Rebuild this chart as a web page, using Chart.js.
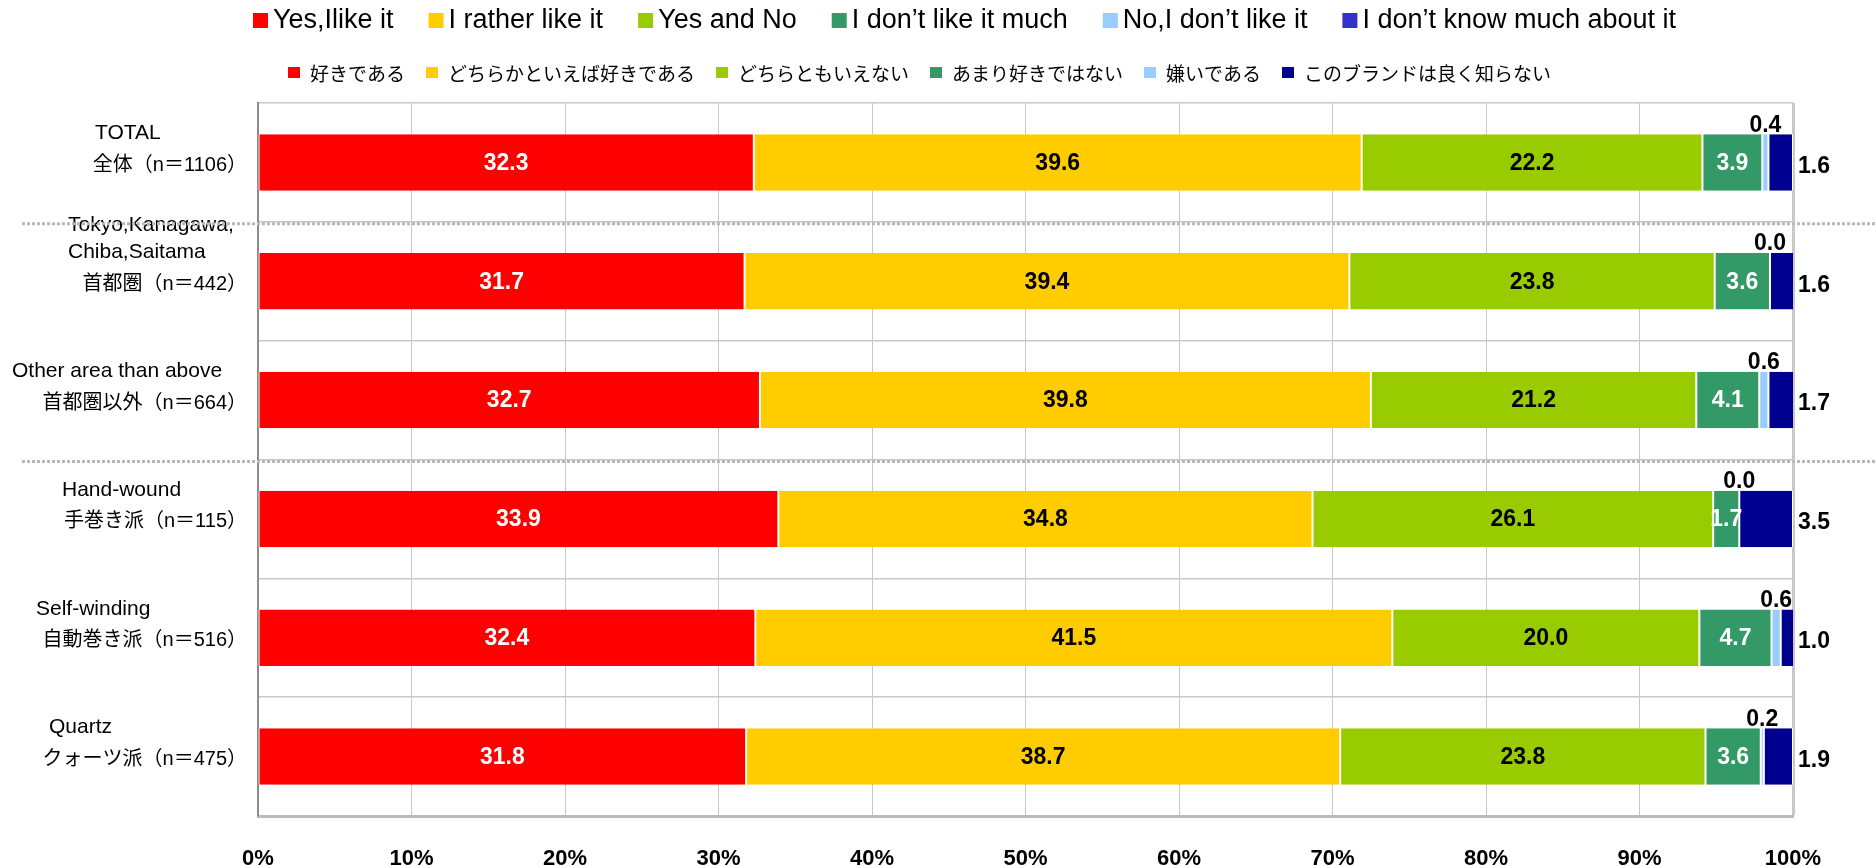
<!DOCTYPE html>
<html>
<head>
<meta charset="utf-8">
<script src="https://cdn.jsdelivr.net/npm/chart.js@4.4.1/dist/chart.umd.min.js"></script>
<style>
html,body{margin:0;padding:0;background:#fff;}
#wrap{width:1876px;height:866px;position:relative;}
</style>
</head>
<body>
<div id="wrap"><canvas id="c"></canvas></div>
<script>
// ---- data ----
const categoriesEn = [['TOTAL'], ['Tokyo,Kanagawa,', 'Chiba,Saitama'], ['Other area than above'], ['Hand-wound'], ['Self-winding'], ['Quartz']];
const categoriesJa = ['全体（n＝1106）', '首都圏（n＝442）', '首都圏以外（n＝664）', '手巻き派（n＝115）', '自動巻き派（n＝516）', 'クォーツ派（n＝475）'];
const seriesEn = ['Yes,Ilike it', 'I rather like it', 'Yes and No', 'I don\u2019t like it much', 'No,I don\u2019t like it', 'I don\u2019t know much about it'];
const seriesJa = ['好きである', 'どちらかといえば好きである', 'どちらともいえない', 'あまり好きではない', '嫌いである', 'このブランドは良く知らない'];
const yesLike      = [32.3, 31.7, 32.7, 33.9, 32.4, 31.8];
const ratherLike   = [39.6, 39.4, 39.8, 34.8, 41.5, 38.7];
const yesAndNo     = [22.2, 23.8, 21.2, 26.1, 20.0, 23.8];
const dontLikeMuch = [3.9, 3.6, 4.1, 1.7, 4.7, 3.6];
const dontLike     = [0.4, 0.0, 0.6, 0.0, 0.6, 0.2];
const dontKnow     = [1.6, 1.6, 1.7, 3.5, 1.0, 1.9];
const xTickLabels  = ['0%', '10%', '20%', '30%', '40%', '50%', '60%', '70%', '80%', '90%', '100%'];

// ---- styles / layout ----
const barColors = ['#FF0000', '#FFCC00', '#99CC00', '#339966', '#99CCFF', '#000090'];
const legendEnColors = ['#FF0000', '#FFCC00', '#99CC00', '#339966', '#99CCFF', '#3333CC'];
const labelColors = ['#FFFFFF', '#000000', '#000000', '#FFFFFF'];
const engLeft = [95, 68, 12, 62, 36, 49];
const separatorsAfter = [0, 2];
const LATIN = '"Liberation Sans", Arial, sans-serif';
const CJK = '"Noto Sans CJK JP", sans-serif';
const MIXED = '"Liberation Sans", "Noto Sans CJK JP", sans-serif';

const seriesValues = [yesLike, ratherLike, yesAndNo, dontLikeMuch, dontLike, dontKnow];

const datasets = seriesValues.map((vals, k) => ({
  label: seriesEn[k],
  data: vals,
  backgroundColor: barColors[k],
  borderColor: '#FFFFFF',
  borderWidth: {left: 1, right: 1, top: 0, bottom: 0},
  borderSkipped: false,
  barPercentage: 0.475,
  categoryPercentage: 1.0
}));

const customDraw = {
  id: 'customDraw',
  afterDatasetsDraw(chart) {
    const ctx = chart.ctx;
    const area = chart.chartArea;
    ctx.save();
    ctx.font = 'bold 23px ' + LATIN;
    ctx.textBaseline = 'middle';
    ctx.textAlign = 'center';
    chart.data.datasets.forEach((ds, d) => {
      const meta = chart.getDatasetMeta(d);
      meta.data.forEach((el, i) => {
        const v = ds.data[i];
        const txt = v.toFixed(1);
        const left = Math.min(el.base, el.x), right = Math.max(el.base, el.x);
        const cx = (left + right) / 2;
        if (d <= 3) {
          ctx.fillStyle = labelColors[d];
          ctx.fillText(txt, cx, el.y + 1);
        } else if (d === 4) {
          ctx.fillStyle = '#000';
          ctx.fillText(txt, cx, el.y - el.height / 2 - 9);
        } else {
          ctx.fillStyle = '#000';
          ctx.fillText(txt, area.right + 21, el.y + 4);
        }
      });
    });
    ctx.restore();
  },
  afterDraw(chart) {
    const ctx = chart.ctx;
    const yScale = chart.scales.y;
    ctx.save();
    // y-axis category labels
    categoriesJa.forEach((ja, i) => {
      const y = yScale.getPixelForValue(i);
      ctx.fillStyle = '#000';
      ctx.textBaseline = 'middle';
      ctx.font = '20px ' + MIXED;
      ctx.textAlign = 'right';
      ctx.fillText(ja, 247, y + 3);
      ctx.font = '21px ' + LATIN;
      ctx.textAlign = 'left';
      const lines = categoriesEn[i];
      for (let j = lines.length - 1, k = 0; j >= 0; j--, k++) {
        ctx.fillText(lines[j], engLeft[i], y + 3 - 32 - 27 * k);
      }
    });
    // dotted separators
    ctx.strokeStyle = '#B8B8B8';
    ctx.lineWidth = 3;
    ctx.setLineDash([3, 2]);
    separatorsAfter.forEach(i => {
      const yb = (yScale.getPixelForValue(i) + yScale.getPixelForValue(i + 1)) / 2 + 2;
      ctx.beginPath();
      ctx.moveTo(22, yb);
      ctx.lineTo(1876, yb);
      ctx.stroke();
    });
    ctx.setLineDash([]);
    // legend row 1 (English)
    ctx.font = '27px ' + LATIN;
    ctx.textAlign = 'left';
    ctx.textBaseline = 'alphabetic';
    let x = 253;
    seriesEn.forEach((t, k) => {
      ctx.fillStyle = legendEnColors[k];
      ctx.fillRect(x, 13, 15, 15);
      ctx.fillStyle = '#000';
      ctx.fillText(t, x + 20, 28);
      x += 20 + ctx.measureText(t).width + 35;
    });
    // legend row 2 (Japanese)
    ctx.font = '19px ' + CJK;
    ctx.textBaseline = 'middle';
    x = 288;
    seriesJa.forEach((t, k) => {
      ctx.fillStyle = barColors[k];
      ctx.fillRect(x, 67, 12, 11);
      ctx.fillStyle = '#000';
      ctx.fillText(t, x + 22, 74);
      x += 22 + ctx.measureText(t).width + 21;
    });
    ctx.restore();
  }
};

new Chart(document.getElementById('c'), {
  type: 'bar',
  data: {labels: categoriesJa, datasets: datasets},
  options: {
    indexAxis: 'y',
    responsive: true,
    maintainAspectRatio: false,
    animation: false,
    layout: {padding: {top: 103, right: 83, bottom: 1, left: 0}},
    plugins: {legend: {display: false}, tooltip: {enabled: false}},
    scales: {
      x: {
        stacked: true,
        min: 0, max: 100,
        ticks: {
          stepSize: 10,
          padding: 32,
          color: '#000',
          maxRotation: 0,
          font: {family: LATIN, size: 22, weight: 'bold', lineHeight: 1},
          callback: (v, i) => xTickLabels[i]
        },
        grid: {
          color: '#C8C8C8',
          lineWidth: c => (c.tick && c.tick.value === 100) ? 3 : 1,
          drawTicks: false
        },
        border: {color: '#BBBBBB', width: 3},
        afterFit: s => { s.height = 49; }
      },
      y: {
        stacked: true,
        ticks: {display: false},
        grid: {color: '#C8C8C8', lineWidth: 1.5, drawTicks: false, offset: true},
        border: {color: '#8C8C8C', width: 2},
        afterFit: s => { s.width = 258; }
      }
    }
  },
  plugins: [customDraw]
});
</script>
</body>
</html>
